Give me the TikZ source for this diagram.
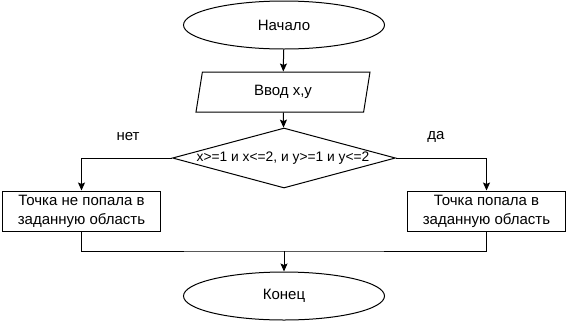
\documentclass[tikz,border=0pt]{standalone}
\usepackage{fontspec}
\setmainfont{Liberation Sans}
\usetikzlibrary{shapes.geometric,arrows.meta}

\begin{document}
\begin{tikzpicture}[x=1pt, y=-1pt, line width=1pt,
		term/.style={draw, ellipse, minimum width=201pt, minimum height=48pt, inner sep=0pt, font=\fontsize{15}{19}\selectfont},
		io/.style={draw, trapezium, trapezium left angle=64.6, trapezium right angle=115.4, trapezium stretches body, minimum width=174pt, minimum height=40pt, inner sep=0pt, font=\fontsize{15}{19}\selectfont},
		cond/.style={draw, diamond, minimum width=223pt, minimum height=60pt, inner sep=0pt},
		proc/.style={draw, rectangle, minimum width=158pt, minimum height=40pt, inner sep=0pt, align=center, font=\fontsize{15}{19}\selectfont},
		lbl/.style={font=\fontsize{15}{19}\selectfont},
		arr/.style={-{Stealth[length=8pt, width=7pt, inset=1.5pt]}}]
			%%%%% START %%%%%
			
			\useasboundingbox (0, 0) rectangle (567, 322);
			
			\node[term] (start) at (284, 25) {Начало};
			\node[io] (input) at (283, 92) {Ввод x,y};
			
			\node[cond] (check) at (284, 158) {};
			\node[font=\fontsize{13.8}{16}\selectfont] (checktext) at (283, 158) {x>=1 и x<=2, и y>=1 и y<=2};
			
			\node[proc] (miss) at (81.5, 211) {Точка не попала в\\заданную область};
			\node[proc] (hit) at (486.5, 211) {Точка попала в\\заданную область};
			
			\node[term] (stop) at (284, 296) {Конец};
			
			\coordinate (join) at (284, 251);
			
			\draw[arr] (start) -- (input);
			\draw[arr] (input) -- (check);
			\draw[arr] (check.west) -| (miss.north);
			\draw[arr] (check.east) -| (hit.north);
			
			\draw (miss.south) |- (join) -| (hit.south);
			\draw[arr] (join) -- (stop);
			
			\node[lbl] (no) at (128, 137) {нет};
			\node[lbl] (yes) at (436, 137) {да};
			
			%%%%% END %%%%%
		\end{tikzpicture}
\end{document}
